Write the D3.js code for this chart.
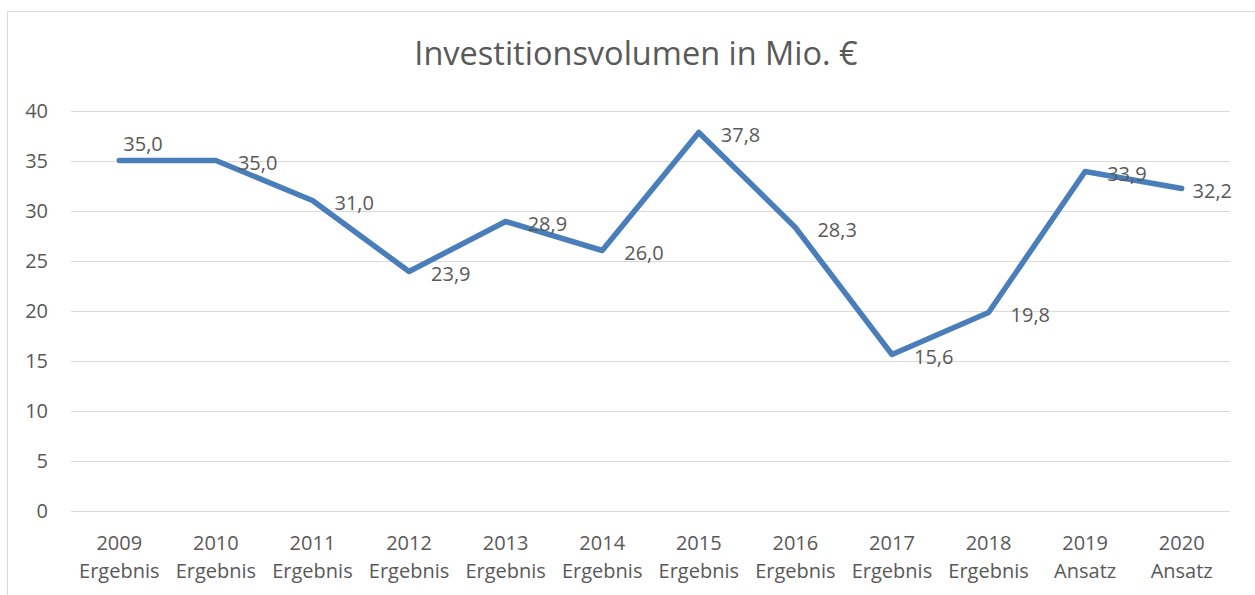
<!DOCTYPE html>
<html>
<head>
<meta charset="utf-8">
<script src="https://cdn.jsdelivr.net/npm/d3@7"></script>
<style>
  html, body { margin: 0; padding: 0; background: #fff; }
  svg { display: block; font-family: "Open Sans", "Noto Sans", sans-serif; }
</style>
</head>
<body>
<svg id="chart" width="1255" height="595"></svg>
<script>
// Investment volume per year (Mio. €)
const years = ["2009", "2010", "2011", "2012", "2013", "2014", "2015", "2016", "2017", "2018", "2019", "2020"];
const kinds = ["Ergebnis", "Ergebnis", "Ergebnis", "Ergebnis", "Ergebnis", "Ergebnis", "Ergebnis", "Ergebnis", "Ergebnis", "Ergebnis", "Ansatz", "Ansatz"];
const values = [35.0, 35.0, 31.0, 23.9, 28.9, 26.0, 37.8, 28.3, 15.6, 19.8, 33.9, 32.2];
const yTicks = [0, 5, 10, 15, 20, 25, 30, 35, 40];
const labelPlacement = ["above", "right", "right", "right", "right", "right", "right", "right", "right", "right", "right", "right"];
const title = "Investitionsvolumen in Mio. €";

const svg = d3.select("#chart");
const W = 1255, H = 595;
const margin = { left: 71, right: 25, top: 110.5, bottom: 84.5 };
const textColor = "#595959";
const gridColor = "#d9d9d9";
const lineColor = "#4a7ebb";

// chart area frame
svg.append("rect")
  .attr("x", 7.5).attr("y", 11.5)
  .attr("width", 1258).attr("height", 600)
  .attr("fill", "#fff").attr("stroke", gridColor).attr("stroke-width", 1);

const x = d3.scaleBand().domain(years).range([margin.left, W - margin.right]);
const y = d3.scaleLinear().domain([0, 40]).range([H - margin.bottom, margin.top]);

// title
svg.append("text")
  .attr("x", 636).attr("y", 65)
  .attr("text-anchor", "middle")
  .attr("fill", textColor)
  .attr("font-size", 32.5)
  .text(title);

// horizontal gridlines + y labels
const yAxis = d3.axisLeft(y).tickValues(yTicks)
  .tickSize(-(W - margin.left - margin.right)).tickPadding(23)
  .tickFormat(d3.format("d"));
const gy = svg.append("g").attr("transform", `translate(${margin.left},0)`).call(yAxis);
gy.select(".domain").remove();
gy.selectAll(".tick line").attr("stroke", gridColor).attr("stroke-width", 1)
  .attr("shape-rendering", "crispEdges");
gy.selectAll(".tick text").attr("fill", textColor).attr("font-size", 20)
  .attr("font-family", "Open Sans, sans-serif").attr("dy", "0.35em");

// category axis labels (two lines)
const xAxis = d3.axisBottom(x).tickSize(0).tickFormat("");
const gx = svg.append("g").attr("transform", `translate(0,${H - margin.bottom})`).call(xAxis);
gx.select(".domain").remove();
gx.selectAll(".tick").each(function(d, i) {
  const t = d3.select(this).append("text")
    .attr("text-anchor", "middle").attr("fill", textColor)
    .attr("font-size", 20).attr("font-family", "Open Sans, sans-serif");
  t.append("tspan").attr("x", 0).attr("y", 39).text(years[i]);
  t.append("tspan").attr("x", 0).attr("y", 67).text(kinds[i]);
});

// series line
const pts = years.map((yr, i) => ({ yr, v: values[i], i }));
const cx = d => x(d.yr) + x.bandwidth() / 2;
const line = d3.line().x(cx).y(d => y(d.v));
svg.append("path")
  .datum(pts)
  .attr("d", line)
  .attr("fill", "none")
  .attr("stroke", lineColor)
  .attr("stroke-width", 5.5)
  .attr("stroke-linecap", "round")
  .attr("stroke-linejoin", "round");

// data labels
const fmt = v => d3.format(".1f")(v).replace(".", ",");
const plotRight = W - margin.right;
const labels = svg.append("g").attr("fill", textColor).attr("font-size", 20)
  .attr("font-family", "Open Sans, sans-serif");
pts.forEach(d => {
  const t = labels.append("text").text(fmt(d.v)).attr("dy", "0.35em");
  if (labelPlacement[d.i] === "above") {
    t.attr("x", cx(d) + 4).attr("y", y(d.v) - 17);
  } else {
    t.attr("x", cx(d) + 22).attr("y", y(d.v) + 2);
    const bb = t.node().getBBox();
    if (bb.x + bb.width > plotRight + 2) t.attr("x", plotRight + 2 - bb.width);
  }
});
</script>
</body>
</html>
